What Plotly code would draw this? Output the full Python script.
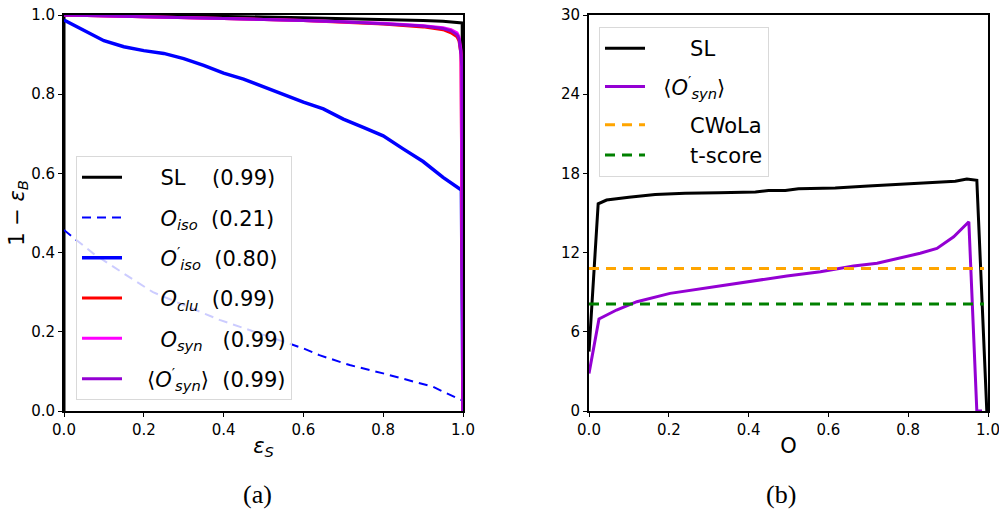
import plotly.graph_objects as go

# ---------------- data: panel (a) ROC curves ----------------
sl_x = [0.0, 0.0, 0.2, 0.4, 0.5, 0.6, 0.7, 0.8, 0.9, 0.95, 0.99, 0.998, 1.0]
sl_y = [0.0, 1.0, 0.999, 0.997, 0.995, 0.993, 0.991, 0.989, 0.986, 0.984, 0.981, 0.980, 0.0]

oiso_x = [0.0, 0.073, 0.156, 0.223, 0.39, 0.549, 0.6, 0.64, 0.716, 0.8, 0.88, 0.925, 0.99, 1.0]
oiso_y = [0.457, 0.398, 0.343, 0.30, 0.23, 0.175, 0.158, 0.141, 0.116, 0.095, 0.074, 0.061, 0.03, 0.026]

oisop_x = [0.0, 0.05, 0.1, 0.15, 0.2, 0.25, 0.3, 0.35, 0.4, 0.45, 0.5, 0.55, 0.6, 0.65,
           0.7, 0.75, 0.8, 0.85, 0.9, 0.95, 0.996, 1.0]
oisop_y = [0.987, 0.96, 0.935, 0.92, 0.91, 0.903, 0.89, 0.873, 0.853, 0.838, 0.818, 0.80,
           0.78, 0.763, 0.737, 0.716, 0.695, 0.662, 0.63, 0.59, 0.558, 0.0]

oclu_x = [0.0, 0.2, 0.4, 0.6, 0.7, 0.8, 0.9, 0.95, 0.97, 0.985, 0.99, 0.995, 1.0]
oclu_y = [1.0, 0.996, 0.991, 0.986, 0.982, 0.977, 0.970, 0.963, 0.955, 0.945, 0.935, 0.90, 0.0]

osyn_x = [0.0, 0.2, 0.4, 0.6, 0.7, 0.8, 0.9, 0.95, 0.97, 0.985, 0.99, 0.995, 1.0]
osyn_y = [1.0, 0.996, 0.991, 0.986, 0.983, 0.979, 0.973, 0.968, 0.963, 0.955, 0.945, 0.91, 0.0]

osynp_x = [0.0, 0.2, 0.4, 0.6, 0.7, 0.8, 0.9, 0.95, 0.97, 0.985, 0.99, 0.995, 0.997, 1.0]
osynp_y = [1.0, 0.996, 0.991, 0.986, 0.983, 0.978, 0.972, 0.966, 0.960, 0.950, 0.940, 0.90, 0.87, 0.0]

# ---------------- data: panel (b) significance ----------------
slb_x = [0.0, 0.023, 0.044, 0.10, 0.166, 0.241, 0.325, 0.417, 0.45, 0.492, 0.525, 0.617, 0.70,
         0.784, 0.843, 0.918, 0.947, 0.972, 0.997]
slb_y = [4.5, 15.7, 15.98, 16.2, 16.4, 16.5, 16.54, 16.6, 16.7, 16.7, 16.84, 16.9, 17.05,
         17.2, 17.3, 17.4, 17.58, 17.48, 0.0]

synb_x = [0.0, 0.025, 0.069, 0.12, 0.203, 0.287, 0.395, 0.496, 0.58, 0.663, 0.722, 0.78, 0.83,
          0.872, 0.914, 0.952, 0.972, 0.985]
synb_y = [2.85, 6.97, 7.65, 8.28, 8.91, 9.29, 9.8, 10.23, 10.55, 10.98, 11.19, 11.57, 11.95,
          12.32, 13.2, 14.34, 0.0, 0.0]

cwola_x = [0.0, 0.99]
cwola_y = [10.8, 10.8]
tscore_x = [0.0, 0.99]
tscore_y = [8.1, 8.1]

ticks_a = [0.0, 0.2, 0.4, 0.6, 0.8, 1.0]
tick_a_text = ["0.0", "0.2", "0.4", "0.6", "0.8", "1.0"]
ticks_b_y = [0, 6, 12, 18, 24, 30]

NB = "\u00a0"

labels_a = [
    NB * 5 + "SL" + NB * 4 + "(0.99)",
    NB * 5 + "<i>O</i><sub><i>iso</i></sub>" + NB * 2 + "(0.21)",
    NB * 5 + "<i>O</i><sup>\u2032</sup><sub><i>iso</i></sub>" + NB * 2 + "(0.80)",
    NB * 5 + "<i>O</i><sub><i>clu</i></sub>" + NB * 2 + "(0.99)",
    NB * 5 + "<i>O</i><sub><i>syn</i></sub>" + NB * 3 + "(0.99)",
    NB * 3 + "\u27e8<i>O</i><sup>\u2032</sup><sub><i>syn</i></sub>\u27e9" + NB * 2 + "(0.99)",
]
labels_b = [
    NB * 6 + "SL",
    NB * 2 + "\u27e8<i>O</i><sup>\u2032</sup><sub><i>syn</i></sub>\u27e9",
    NB * 6 + "CWoLa",
    NB * 6 + "t-score",
]

fig = go.Figure()

# panel (a)
fig.add_trace(go.Scatter(x=sl_x, y=sl_y, mode="lines", name=labels_a[0], legendgroup="a1",
                         line=dict(color="black", width=3), legend="legend"))
fig.add_trace(go.Scatter(x=oiso_x, y=oiso_y, mode="lines", name=labels_a[1], legendgroup="a2",
                         line=dict(color="#0000ff", width=2, dash="9px,6px"), legend="legend"))
fig.add_trace(go.Scatter(x=oisop_x, y=oisop_y, mode="lines", name=labels_a[2], legendgroup="a3",
                         line=dict(color="#0000ff", width=3.5), legend="legend"))
fig.add_trace(go.Scatter(x=oclu_x, y=oclu_y, mode="lines", name=labels_a[3], legendgroup="a4",
                         line=dict(color="#ff0000", width=3), legend="legend"))
fig.add_trace(go.Scatter(x=osyn_x, y=osyn_y, mode="lines", name=labels_a[4], legendgroup="a5",
                         line=dict(color="#ff00ff", width=3), legend="legend"))
fig.add_trace(go.Scatter(x=osynp_x, y=osynp_y, mode="lines", name=labels_a[5], legendgroup="a6",
                         line=dict(color="#9400d3", width=3), legend="legend"))

# panel (b)
fig.add_trace(go.Scatter(x=slb_x, y=slb_y, mode="lines", name=labels_b[0], xaxis="x2", yaxis="y2",
                         legendgroup="b1", line=dict(color="black", width=3), legend="legend2"))
fig.add_trace(go.Scatter(x=synb_x, y=synb_y, mode="lines", name=labels_b[1], xaxis="x2", yaxis="y2",
                         legendgroup="b2", line=dict(color="#9400d3", width=3), legend="legend2"))
fig.add_trace(go.Scatter(x=cwola_x, y=cwola_y, mode="lines", name=labels_b[2], xaxis="x2", yaxis="y2",
                         legendgroup="b3", line=dict(color="#ffa500", width=3, dash="10px,7px"),
                         legend="legend2"))
fig.add_trace(go.Scatter(x=tscore_x, y=tscore_y, mode="lines", name=labels_b[3], xaxis="x2", yaxis="y2",
                         legendgroup="b3", line=dict(color="#008000", width=3, dash="10px,7px"),
                         legend="legend2"))

W, H = 999, 516
ybot = 1 - 411 / H
ytop = 1 - 15 / H

axis_common = dict(showline=True, mirror=True, linecolor="black", linewidth=2,
                   ticks="outside", ticklen=4, tickwidth=1.2, tickcolor="black",
                   showgrid=False, zeroline=False, automargin=False,
                   ticklabeloverflow="allow",
                   tickfont=dict(family="DejaVu Sans", size=15, color="black"))

fig.update_layout(
    width=W, height=H,
    margin=dict(l=0, r=0, t=0, b=0, autoexpand=False),
    paper_bgcolor="white", plot_bgcolor="white",
    font=dict(family="DejaVu Sans", color="black"),
    xaxis=dict(domain=[64 / W, 463 / W], range=[0, 1], tickvals=ticks_a, ticktext=tick_a_text,
               anchor="y",
               title=dict(text="<i>\u03b5</i><sub><i>S</i></sub>", font=dict(size=21), standoff=0),
               **axis_common),
    yaxis=dict(domain=[ybot, ytop], range=[0, 1], tickvals=ticks_a, ticktext=tick_a_text,
               anchor="x",
               title=dict(text="1 \u2212 <i>\u03b5</i><sub><i>B</i></sub>", font=dict(size=21), standoff=0),
               **axis_common),
    xaxis2=dict(domain=[589 / W, 988 / W], range=[0, 1], tickvals=ticks_a, ticktext=tick_a_text,
                anchor="y2",
                title=dict(text="O", font=dict(size=21), standoff=0),
                **axis_common),
    yaxis2=dict(domain=[ybot, ytop], range=[0, 30], tickvals=ticks_b_y,
                anchor="x2", **axis_common),
    legend=dict(x=76 / W, y=1 - 156 / H, xanchor="left", yanchor="top",
                bgcolor="rgba(255,255,255,0.8)", bordercolor="#d9d9d9", borderwidth=1,
                font=dict(family="DejaVu Sans", size=21, color="black"),
                itemwidth=40, tracegroupgap=10),
    legend2=dict(x=599 / W, y=1 - 27 / H, xanchor="left", yanchor="top",
                 bgcolor="rgba(255,255,255,0.8)", bordercolor="#d9d9d9", borderwidth=1,
                 font=dict(family="DejaVu Sans", size=21, color="black"),
                 itemwidth=40, tracegroupgap=8),
    annotations=[
        dict(text="(a)", x=257 / W, y=1 - 494 / H, xref="paper", yref="paper",
             xanchor="center", yanchor="middle",
             showarrow=False, font=dict(family="Liberation Serif", size=26, color="black")),
        dict(text="(b)", x=781 / W, y=1 - 494 / H, xref="paper", yref="paper",
             xanchor="center", yanchor="middle",
             showarrow=False, font=dict(family="Liberation Serif", size=26, color="black")),
    ],
)

fig.write_html("out.html")
